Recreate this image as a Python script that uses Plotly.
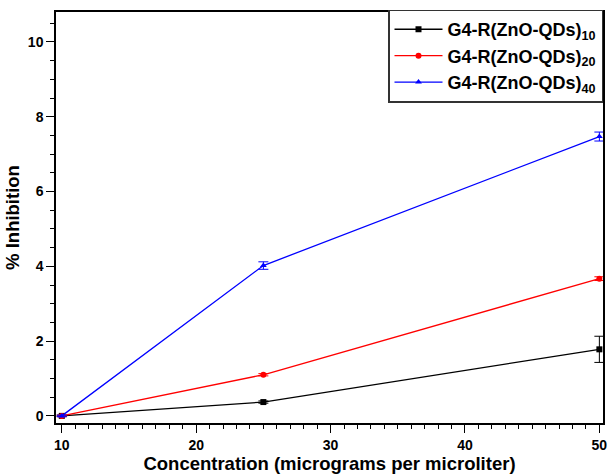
import plotly.graph_objects as go

conc = [10, 25, 50]
g10 = [0.0, 0.37, 1.78]
g10_err = [0.02, 0.03, 0.35]
g20 = [0.0, 1.10, 3.67]
g20_err = [0.02, 0.03, 0.05]
g40 = [0.0, 4.02, 7.47]
g40_err = [0.02, 0.10, 0.12]

names = ["G4-R(ZnO-QDs)<sub>10</sub>", "G4-R(ZnO-QDs)<sub>20</sub>", "G4-R(ZnO-QDs)<sub>40</sub>"]
colors = ["black", "red", "blue"]
symbols = ["square", "circle", "triangle-up"]

fig = go.Figure()
for name, ys, errs, c, s in zip(names, [g10, g20, g40], [g10_err, g20_err, g40_err], colors, symbols):
    fig.add_trace(go.Scatter(
        x=conc, y=ys, name=name, mode="lines+markers",
        line=dict(color=c, width=1.3),
        marker=dict(symbol=s, size=6, color=c),
        error_y=dict(type="data", array=errs, visible=True, color=c, thickness=1, width=5),
    ))

font_family = "Liberation Sans, Arial, sans-serif"
fig.update_layout(
    width=609, height=475,
    margin=dict(l=56, r=2, t=12, b=52),
    plot_bgcolor="white", paper_bgcolor="white",
    font=dict(family=font_family, color="black"),
    showlegend=True,
    legend=dict(
        x=1, y=1.006, xanchor="right", yanchor="top",
        bordercolor="#333", borderwidth=1.5, bgcolor="white",
        font=dict(size=18, family=font_family, weight="bold"),
        tracegroupgap=0, itemwidth=48,
    ),
)
fig.update_xaxes(
    range=[9.57, 50.27], tickvals=[10, 20, 30, 40, 50],
    showline=True, mirror=True, linecolor="black", linewidth=1.5,
    ticks="outside", ticklen=8, tickwidth=1.3, tickcolor="black",
    minor=dict(dtick=1, tick0=10, ticks="outside", ticklen=4, tickwidth=1, tickcolor="black"),
    showgrid=False, zeroline=False, ticklabeloverflow="allow",
    tickfont=dict(size=14, weight="bold"),
    title=dict(text="Concentration (micrograms per microliter)", font=dict(size=18.5, weight="bold"), standoff=5),
)
fig.update_yaxes(
    range=[-0.19, 10.8], tickvals=[0, 2, 4, 6, 8, 10],
    showline=True, mirror=True, linecolor="black", linewidth=1.5,
    ticks="outside", ticklen=8, tickwidth=1.3, tickcolor="black",
    minor=dict(dtick=0.5, tick0=0, ticks="outside", ticklen=4, tickwidth=1, tickcolor="black"),
    showgrid=False, zeroline=False,
    tickfont=dict(size=14, weight="bold"),
    title=dict(text="% Inhibition", font=dict(size=18.5, weight="bold"), standoff=3),
)
fig.write_html("out.html")
